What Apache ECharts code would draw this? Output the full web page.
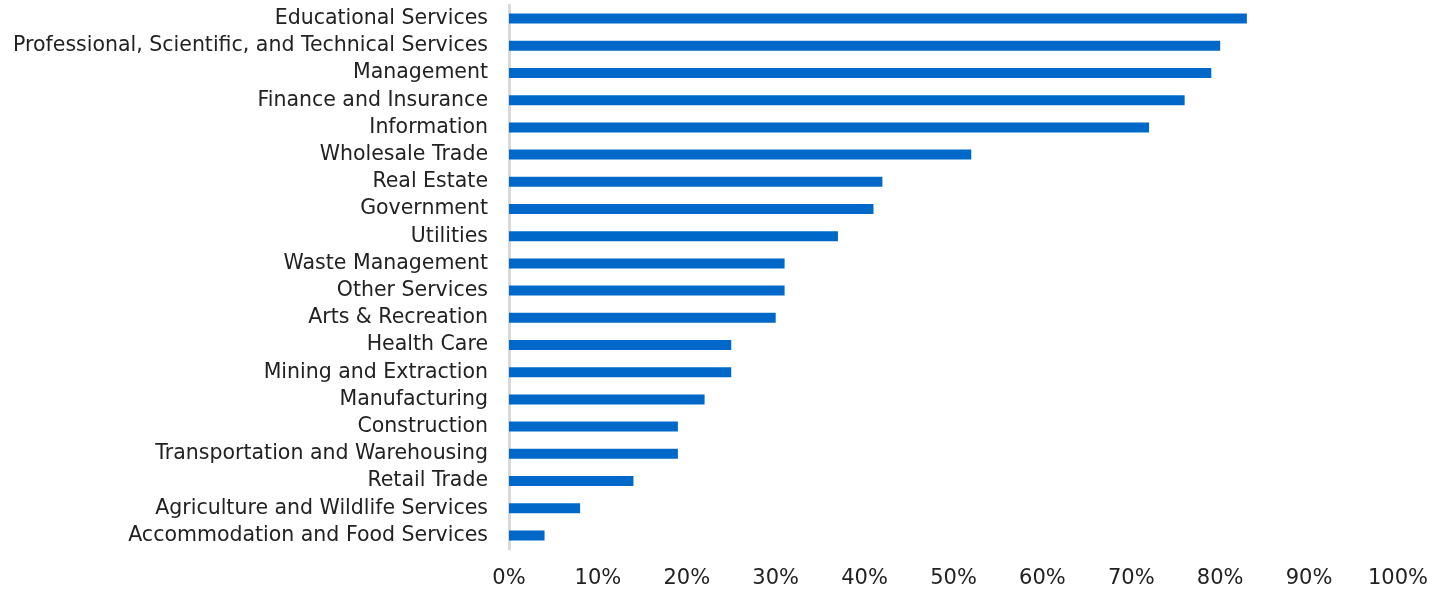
<!DOCTYPE html>
<html>
<head>
<meta charset="utf-8">
<script src="https://cdn.jsdelivr.net/npm/echarts@6/dist/echarts.min.js"></script>
<style>html,body{margin:0;padding:0;background:#fff}#c{width:1447px;height:591px}</style>
</head>
<body>
<div id="c"></div>
<script>
const categories = [
  "Educational Services",
  "Professional, Scientific, and Technical Services",
  "Management",
  "Finance and Insurance",
  "Information",
  "Wholesale Trade",
  "Real Estate",
  "Government",
  "Utilities",
  "Waste Management",
  "Other Services",
  "Arts & Recreation",
  "Health Care",
  "Mining and Extraction",
  "Manufacturing",
  "Construction",
  "Transportation and Warehousing",
  "Retail Trade",
  "Agriculture and Wildlife Services",
  "Accommodation and Food Services"
];
const values = [83, 80, 79, 76, 72, 52, 42, 41, 37, 31, 31, 30, 25, 25, 22, 19, 19, 14, 8, 4];
const xTicks = [0, 10, 20, 30, 40, 50, 60, 70, 80, 90, 100];

const chart = echarts.init(document.getElementById('c'), null, {renderer: 'canvas'});
const font = '"DejaVu Sans", sans-serif';
chart.setOption({
  animation: false,
  grid: {left: 509, right: 49, top: 5, bottom: 42, containLabel: false},
  xAxis: {
    type: 'value', min: 0, max: 100, interval: 10,
    axisLine: {show: false}, axisTick: {show: false}, splitLine: {show: false},
    axisLabel: {formatter: v => v + '%', color: '#222', fontSize: 21, fontFamily: font, margin: 19}
  },
  yAxis: {
    type: 'category', data: categories, inverse: true,
    axisLine: {show: true, lineStyle: {color: '#d9d9d9', width: 3}},
    axisTick: {show: false},
    axisLabel: {color: '#222', fontSize: 20.5, fontFamily: font, margin: 21, interval: 0, hideOverlap: false, padding: [3, 0, 0, 0]}
  },
  series: [{
    type: 'bar', data: values, barWidth: 10,
    itemStyle: {color: '#0068c8'}
  }]
});
</script>
</body>
</html>
